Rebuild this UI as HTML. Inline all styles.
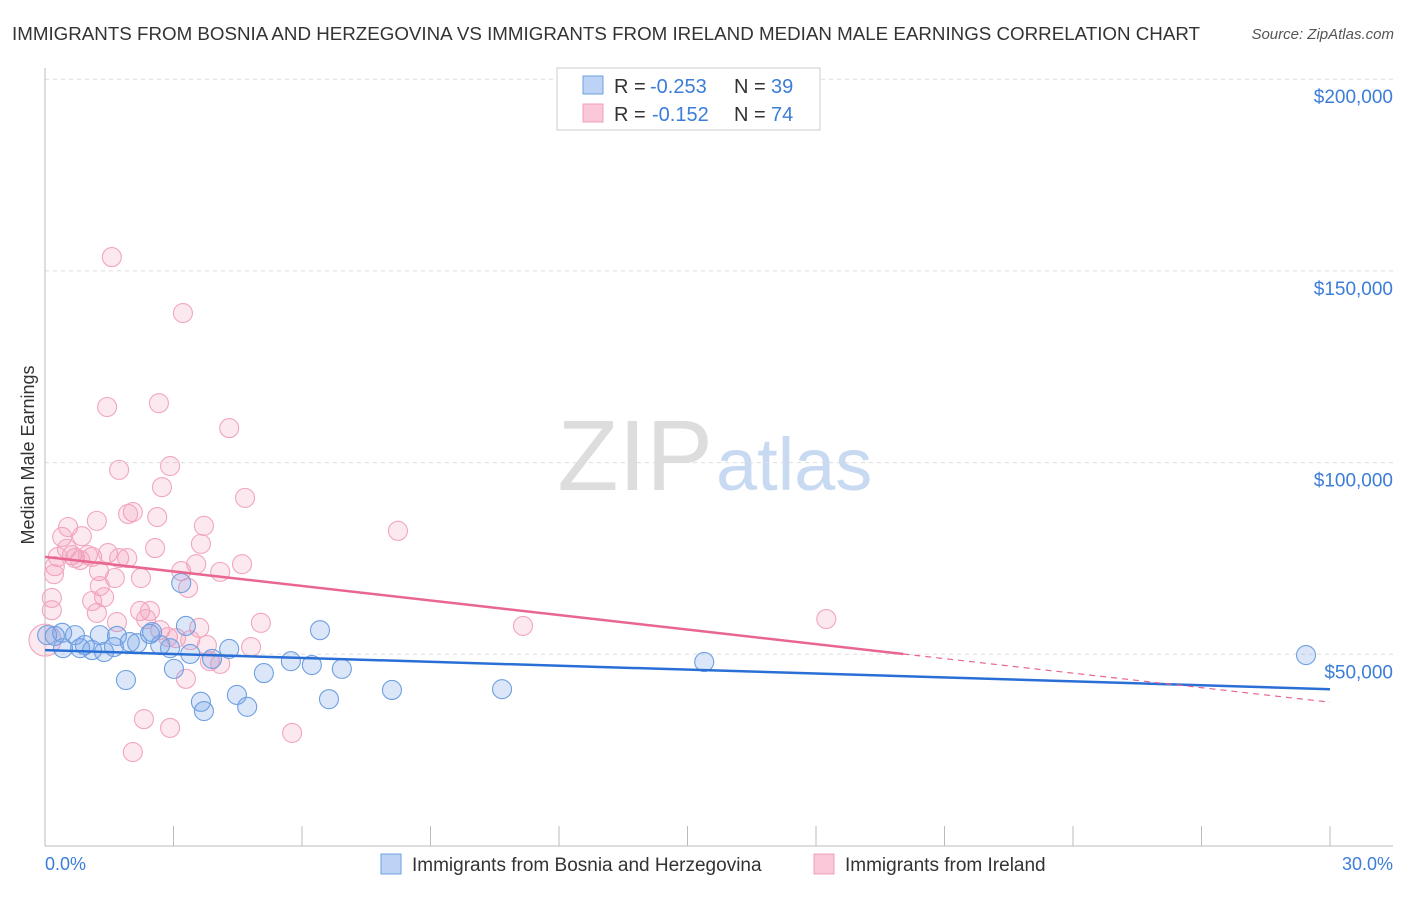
<!DOCTYPE html>
<html><head><meta charset="utf-8"><style>
body{margin:0;background:#fff;font-family:"Liberation Sans",sans-serif;}
svg text{font-family:"Liberation Sans",sans-serif;}
</style></head><body>
<svg id="chart" width="1406" height="892" xmlns="http://www.w3.org/2000/svg">
<text x="12" y="40" font-size="18" fill="#333" textLength="1188" lengthAdjust="spacingAndGlyphs">IMMIGRANTS FROM BOSNIA AND HERZEGOVINA VS IMMIGRANTS FROM IRELAND MEDIAN MALE EARNINGS CORRELATION CHART</text>
<text x="1394" y="39" font-size="15" fill="#555" text-anchor="end" font-style="italic">Source: ZipAtlas.com</text>
<text x="713" y="490" font-size="100" fill="#ddd" text-anchor="end" font-family="Liberation Serif">ZIP</text>
<text x="716" y="490" font-size="74" fill="#c8daf2">atlas</text>
<g id="grid"></g>
<g id="axes"></g>
<g id="pts"></g>
<g id="lines"></g>
<text transform="translate(34,455) rotate(-90)" font-size="18" fill="#333" text-anchor="middle">Median Male Earnings</text>
<text x="45" y="870" font-size="18" fill="#3b7dd8">0.0%</text>
<text x="1393" y="870" font-size="18" fill="#3b7dd8" text-anchor="end">30.0%</text>
<g>
<rect x="557" y="68" width="263" height="62" fill="#fff" stroke="#ccc"/>
<rect x="583" y="76" width="20" height="18" fill="#bcd3f5" stroke="#6f9fe0"/>
<rect x="583" y="104" width="20" height="18" fill="#fac8d8" stroke="#f0a0b8"/>
<text x="614" y="93" font-size="20" fill="#333">R = <tspan x="650" fill="#3b7dd8">-0.253</tspan><tspan x="734">N = </tspan><tspan x="771" fill="#3b7dd8">39</tspan></text>
<text x="614" y="121" font-size="20" fill="#333">R = <tspan x="652" fill="#3b7dd8">-0.152</tspan><tspan x="734">N = </tspan><tspan x="771" fill="#3b7dd8">74</tspan></text>
</g>
<g>
<rect x="381" y="854" width="20" height="20" fill="#bcd3f5" stroke="#6f9fe0"/>
<text x="412" y="871" font-size="19" fill="#333">Immigrants from Bosnia and Herzegovina</text>
<rect x="814" y="854" width="20" height="20" fill="#fac8d8" stroke="#f0a0b8"/>
<text x="845" y="871" font-size="19" fill="#333">Immigrants from Ireland</text>
</g>
</svg>
<script>
const yTicks=[50,100,150,200];
const yTickLabels=["$50,000","$100,000","$150,000","$200,000"];
const xTicks=[0,3,6,9,12,15,18,21,24,27,30];
const blueX=[0.05,0.23,0.40,0.70,0.82,1.10,1.28,1.38,1.61,1.68,1.89,1.98,2.15,2.45,2.50,2.69,2.92,3.01,3.18,3.29,3.39,3.64,3.71,3.90,4.30,4.48,4.72,5.11,5.74,6.23,6.42,6.63,6.93,8.10,10.67,15.39,29.44,0.42,0.93];
const blueY=[55.0,54.8,55.6,55.0,51.6,51.1,55.0,50.6,51.9,54.8,43.3,53.2,52.9,55.3,55.8,52.4,51.6,46.2,68.6,57.4,50.1,37.6,35.2,48.8,51.4,39.4,36.3,45.1,48.2,47.2,56.3,38.3,46.2,40.7,40.9,48.0,49.8,51.6,52.4];
const pinkX=[1.56,3.22,1.45,2.66,4.30,2.92,1.73,2.73,4.67,8.24,2.05,2.62,1.21,1.94,0.54,3.71,3.64,2.57,0.40,0.86,0.51,0.63,0.30,0.70,1.00,0.82,1.10,1.47,1.73,1.92,0.23,0.21,1.26,1.63,2.24,3.18,3.53,4.09,4.60,1.28,3.34,0.16,1.38,1.10,0.16,1.21,2.22,2.45,2.36,1.68,5.04,11.16,18.24,2.69,3.60,2.87,3.39,3.78,3.06,4.81,0.0,3.85,4.09,3.29,2.31,2.92,5.77,2.05];
const pinkY=[153.6,139.0,114.5,115.5,109.0,99.1,98.1,93.6,90.8,82.2,87.1,85.8,84.8,86.6,83.2,83.5,78.8,77.7,80.6,80.8,77.5,75.9,75.4,75.1,75.9,74.6,75.4,76.4,75.1,75.1,73.0,70.9,71.7,69.9,69.9,71.7,73.5,71.5,73.5,67.8,67.3,64.7,64.9,63.9,61.5,60.8,61.3,61.3,59.2,58.4,58.2,57.4,59.2,56.3,56.9,54.5,53.7,52.4,54.2,51.9,53.7,48.2,47.5,43.6,33.1,30.8,29.5,24.5];
const blueTrend=[51.1,40.9];
const pinkTrend=[75.4,37.5];
const pinkSolidEnd=20.04;
const NS="http://www.w3.org/2000/svg";
const X=v=>45+v*(1285/30);
const Y=v=>846-v*(191.7/50);
function mk(t,a,p){const e=document.createElementNS(NS,t);for(const k in a)e.setAttribute(k,a[k]);p.appendChild(e);return e;}
const grid=document.getElementById('grid'),axes=document.getElementById('axes'),pts=document.getElementById('pts'),lines=document.getElementById('lines');
yTicks.forEach((t,i)=>{
 const l=mk('line',{x1:45,x2:1393,y1:Y(t),y2:Y(t),stroke:'#ddd','stroke-dasharray':'4,4'},grid);
 
 
 const tx=mk('text',{x:1393,y:Y(t)+24,'font-size':19,fill:'#3b7dd8','text-anchor':'end'},grid);
 tx.textContent=yTickLabels[i];
 
 
});
const ax=mk('line',{x1:45,x2:45,y1:68,y2:846,stroke:'#bbb'},axes);


const bx=mk('line',{x1:45,x2:1393,y1:846,y2:846,stroke:'#bbb'},axes);


xTicks.forEach(t=>{
 const l=mk('line',{x1:X(t),x2:X(t),y1:826,y2:846,stroke:'#bbb'},axes);
 
 
});
pinkX.forEach((x,i)=>{
 const c=mk('circle',{cx:X(x),cy:Y(pinkY[i]),r:x===0?16:9.5,fill:'rgba(242,150,180,0.22)',stroke:'#f2a6bd','stroke-width':1.1},pts);
 
 
});
blueX.forEach((x,i)=>{
 const c=mk('circle',{cx:X(x),cy:Y(blueY[i]),r:9.5,fill:'rgba(110,160,230,0.25)',stroke:'#6f9fe0','stroke-width':1.1},pts);
 
 
});
const pAt=x=>pinkTrend[0]+(pinkTrend[1]-pinkTrend[0])*x/30;
const bl=mk('line',{x1:X(0),y1:Y(blueTrend[0]),x2:X(30),y2:Y(blueTrend[1]),stroke:'#2a6fd6','stroke-width':2.5},lines);


const pl=mk('line',{x1:X(0),y1:Y(pAt(0)),x2:X(pinkSolidEnd),y2:Y(pAt(pinkSolidEnd)),stroke:'#e8668f','stroke-width':2.5},lines);


const pd=mk('line',{x1:X(pinkSolidEnd),y1:Y(pAt(pinkSolidEnd)),x2:X(30),y2:Y(pAt(30)),stroke:'#e8668f','stroke-width':1.2,'stroke-dasharray':'6,5'},lines);


</script>
</body></html>
